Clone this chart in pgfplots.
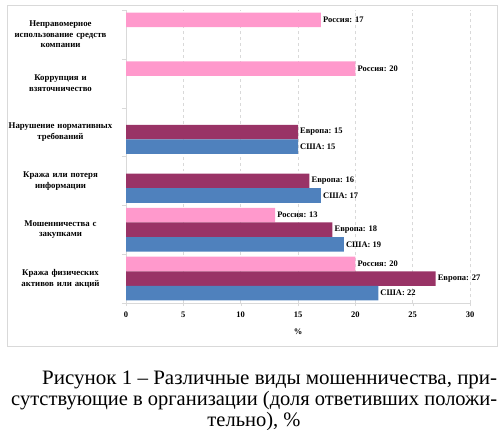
\documentclass[border=0pt]{standalone}
\usepackage{graphicx}
\usepackage{pgfplots}
\pgfplotsset{compat=1.18}
\usepackage{fontspec}
\setmainfont{Liberation Serif}
\definecolor{rus}{HTML}{FF99CC}
\definecolor{eur}{HTML}{993366}
\definecolor{usa}{HTML}{4F81BD}
\definecolor{gridc}{HTML}{D9D9D9}
\begin{document}
\begin{tikzpicture}
\useasboundingbox (0,0) rectangle (504bp,-430bp);
\draw[gridc, line width=0.8bp] (7bp,-5bp) rectangle (497bp,-346bp);
\begin{axis}[
  at={(126bp,-303bp)}, anchor=south west,
  scale only axis, width=344bp, height=293bp,
  xmin=0, xmax=30, ymin=-0.5, ymax=5.5,
  xtick={0,5,...,30},
  ytick={0,...,5},
  yticklabels={{Кража физических\\активов или акций},{Мошенничества с\\закупками},{Кража или потеря\\информации},{Нарушение нормативных\\требований},{Коррупция и\\взяточничество},{Неправомерное\\использование средств\\компании}},
  yticklabel style={align=center, font=\bfseries\fontsize{8.8bp}{10.5bp}\selectfont, text width=118bp},
  xticklabel style={font=\bfseries\fontsize{8.5bp}{10bp}\selectfont, yshift=-2bp},
  /pgf/number format/assume math mode=true,
  axis lines*=left,
  axis line style={gridc},
  major y tick style={draw=none},
  minor ytick={-0.5,0.5,...,5.5},
  minor y tick style={gridc},
  minor tick length=4bp,
  x tick style={gridc},
  tick align=outside,
  major tick length=3bp,
  xmajorgrids, grid style={gridc, dashed},
  xlabel={\%}, xlabel style={font=\bfseries\fontsize{8.5bp}{10bp}\selectfont, yshift=-5bp},
  xbar, bar width=14.6bp,
  nodes near coords,
  nodes near coords style={font=\bfseries\fontsize{8.5bp}{10bp}\selectfont, anchor=west, inner sep=2bp},
  clip=false,
]
\addplot[draw=none, fill=rus, bar shift=14.6bp, nodes near coords={Россия: \pgfmathprintnumber{\pgfplotspointmeta}}] coordinates {(17,5) (20,4) (13,1) (20,0)};
\addplot[draw=none, fill=eur, bar shift=0bp, nodes near coords={Европа: \pgfmathprintnumber{\pgfplotspointmeta}}] coordinates {(15,3) (16,2) (18,1) (27,0)};
\addplot[draw=none, fill=usa, bar shift=-14.6bp, nodes near coords={США: \pgfmathprintnumber{\pgfplotspointmeta}}] coordinates {(15,3) (17,2) (19,1) (22,0)};
\end{axis}
\node[anchor=base west, inner sep=0, font=\fontsize{20.5bp}{22bp}\selectfont] at (42bp,-384bp) {\resizebox{455bp}{\height}{Рисунок 1 – Различные виды мошенничества, при-}};
\node[anchor=base west, inner sep=0, font=\fontsize{20.5bp}{22bp}\selectfont] at (11bp,-405bp) {\resizebox{486bp}{\height}{сутствующие в организации (доля ответивших положи-}};
\node[anchor=base, inner sep=0, font=\fontsize{20.5bp}{22bp}\selectfont] at (254bp,-426bp) {тельно), \%};
\end{tikzpicture}
\end{document}
